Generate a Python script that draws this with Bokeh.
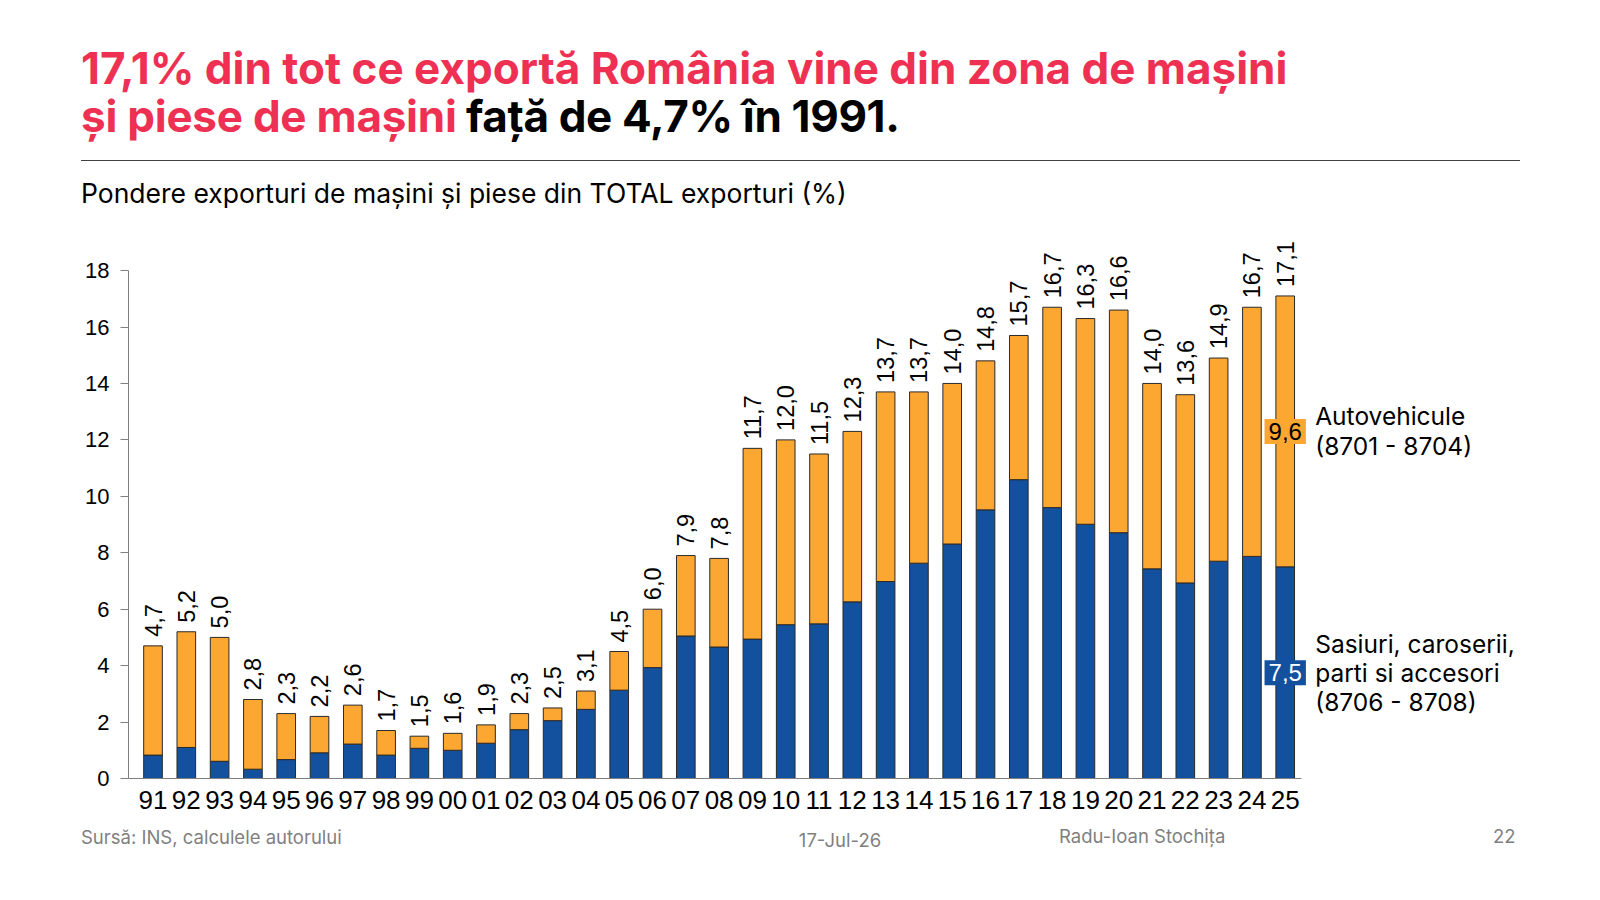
import math
from bokeh.plotting import figure
from bokeh.layouts import column
from bokeh.models import Range1d, FixedTicker, ColumnDataSource, Div
from bokeh.core.properties import value
from bokeh.embed import file_html
from bokeh.resources import INLINE

# ---------------- data ----------------
years = ["91", "92", "93", "94", "95", "96", "97", "98", "99", "00",
         "01", "02", "03", "04", "05", "06", "07", "08", "09", "10",
         "11", "12", "13", "14", "15", "16", "17", "18", "19", "20",
         "21", "22", "23", "24", "25"]
totals = [4.7, 5.2, 5.0, 2.8, 2.3, 2.2, 2.6, 1.7, 1.5, 1.6,
          1.9, 2.3, 2.5, 3.1, 4.5, 6.0, 7.9, 7.8, 11.7, 12.0,
          11.5, 12.3, 13.7, 13.7, 14.0, 14.8, 15.7, 16.7, 16.3, 16.6,
          14.0, 13.6, 14.9, 16.7, 17.1]
# Sasiuri, caroserii, parti si accesori (8706 - 8708)
parts = [0.83, 1.10, 0.61, 0.33, 0.67, 0.91, 1.22, 0.83, 1.07, 1.00,
         1.25, 1.73, 2.05, 2.45, 3.13, 3.93, 5.05, 4.66, 4.94, 5.45,
         5.48, 6.26, 6.98, 7.63, 8.31, 9.52, 10.59, 9.60, 9.01, 8.71,
         7.43, 6.93, 7.70, 7.87, 7.50]
# Autovehicule (8701 - 8704)
vehicles = [3.87, 4.10, 4.39, 2.47, 1.63, 1.29, 1.38, 0.87, 0.43, 0.60,
            0.65, 0.57, 0.45, 0.65, 1.37, 2.07, 2.85, 3.14, 6.76, 6.55,
            6.02, 6.04, 6.72, 6.07, 5.69, 5.28, 5.11, 7.10, 7.29, 7.89,
            6.57, 6.67, 7.20, 8.83, 9.60]
y_ticks = [0, 2, 4, 6, 8, 10, 12, 14, 16, 18]
vehicles_name = ["Autovehicule", "(8701 - 8704)"]
parts_name = ["Sasiuri, caroserii,", "parti si accesori", "(8706 - 8708)"]

title_red_1 = "17,1% din tot ce exportă România vine din zona de mașini"
title_red_2 = "și piese de mașini"
title_black_2 = "față de 4,7% în 1991."
subtitle = "Pondere exporturi de mașini și piese din TOTAL exporturi (%)"
source_txt = "Sursă: INS, calculele autorului"
date_txt = "17-Jul-26"
author_txt = "Radu-Ioan Stochița"
page_txt = "22"

BLUE = "#13519F"
ORANGE = "#FCA732"
RED = "#EE3152"
GREY = "#7F7F7F"


def fmt(v):
    return f"{v:.1f}".replace(".", ",")


idx = list(range(len(years)))
src = ColumnDataSource(dict(x=idx, parts=parts, vehicles=vehicles,
                            total=totals, lbl=[fmt(t) for t in totals]))

TOP_H = 215
FIG_H = 605
BOT_H = 900 - TOP_H - FIG_H

p = figure(width=1600, height=FIG_H, output_backend="svg", toolbar_location=None,
           x_range=Range1d(-0.736, 43.468), y_range=Range1d(0, 19.42),
           min_border_left=128, min_border_right=0,
           min_border_top=15, min_border_bottom=42)
p.outline_line_color = None
p.xgrid.visible = False
p.ygrid.visible = False
p.background_fill_color = "white"
p.border_fill_color = "white"

p.vbar_stack(["parts", "vehicles"], x="x", width=0.56, source=src,
             fill_color=[BLUE, ORANGE], line_color="#2a2a2a", line_width=1)

p.text(x="x", y="total", text="lbl", source=src, angle=math.pi / 2,
       text_align="left", text_baseline="middle", y_offset=-9,
       text_font=value("Liberation Sans"), text_font_size="23.5px",
       text_color="black")

# value boxes for the last year
last = len(years) - 1
mid_v = parts[last] + vehicles[last] / 2
mid_p = parts[last] / 2
bsrc = ColumnDataSource(dict(
    x=[last, last], y=[mid_v, mid_p],
    t=[fmt(vehicles[last]), fmt(parts[last])],
    bg=[ORANGE, BLUE], tc=["black", "white"]))
p.text(x="x", y="y", text="t", source=bsrc, text_align="center",
       text_baseline="middle", text_font=value("Liberation Sans"),
       text_font_size="24px", text_color="tc", background_fill_color="bg",
       padding=4)

# series names next to the last bar
lsrc = ColumnDataSource(dict(
    x=[last] * 5,
    y=[mid_v, mid_v, mid_p, mid_p, mid_p],
    t=vehicles_name + parts_name,
    yo=[-15, 14.5, -29, 0, 29]))
p.text(x="x", y="y", text="t", source=lsrc, x_offset=30, y_offset="yo",
       text_align="left", text_baseline="alphabetic",
       text_font=value("Inter"), text_font_size="24.5px", text_color="black")

# axes
p.yaxis.ticker = FixedTicker(ticks=y_ticks)
p.yaxis.bounds = (0, 18)
p.yaxis.major_tick_out = 8
p.yaxis.major_tick_in = 0
p.yaxis.minor_tick_line_color = None
p.yaxis.axis_line_color = GREY
p.yaxis.major_tick_line_color = GREY
p.yaxis.major_label_text_font = "Liberation Sans"
p.yaxis.major_label_text_font_size = "22px"
p.yaxis.major_label_text_color = "black"
p.yaxis.major_label_standoff = 11

p.xaxis.ticker = FixedTicker(ticks=idx)
p.xaxis.bounds = (-0.736, 34.49)
p.xaxis.major_label_overrides = {i: y for i, y in zip(idx, years)}
p.xaxis.major_tick_out = 0
p.xaxis.major_tick_in = 0
p.xaxis.minor_tick_line_color = None
p.xaxis.axis_line_color = GREY
p.xaxis.major_label_text_font = "Liberation Sans"
p.xaxis.major_label_text_font_size = "26px"
p.xaxis.major_label_text_color = "black"
p.xaxis.major_label_standoff = 12


# ---------------- header / footer (HTML) ----------------
def span(txt, left, base_y, size, color, weight=400, center=False, ls=0):
    top = base_y - 0.864 * size
    tr = "transform:translateX(-50%);" if center else ""
    return (f'<div style="position:absolute;left:{left}px;top:{top:.1f}px;'
            f'font-size:{size}px;line-height:1;font-weight:{weight};color:{color};'
            f'letter-spacing:{ls}px;white-space:nowrap;{tr}">{txt}</div>')


head_html = (
    f'<div style="position:relative;width:1600px;height:{TOP_H}px;'
    f'font-family:Inter,sans-serif;">'
    + span(title_red_1, 81, 83.5, 44, RED, 700)
    + span(title_red_2, 81, 132, 44, RED, 700, ls=-0.25)
    + span(title_black_2, 466, 132, 44, "black", 700, ls=-0.35)
    + '<div style="position:absolute;left:81px;top:159.5px;width:1439px;'
      'height:0;border-top:1.3px solid #404040;"></div>'
    + span(subtitle, 81, 203, 26.5, "black")
    + '</div>')

Y0 = TOP_H + FIG_H
foot_html = (
    f'<div style="position:relative;width:1600px;height:{BOT_H}px;'
    f'font-family:Inter,sans-serif;">'
    + span(source_txt, 81, 844 - Y0, 18.5, GREY)
    + span(date_txt, 840, 847 - Y0, 18.5, GREY, center=True)
    + span(author_txt, 1059, 843 - Y0, 18.5, GREY)
    + span(page_txt, 1493, 843 - Y0, 18.5, GREY)
    + '</div>')

head = Div(text=head_html, width=1600, height=TOP_H, margin=0)
foot = Div(text=foot_html, width=1600, height=BOT_H, margin=0)

layout = column(head, p, foot, spacing=0)
open("out.html", "w").write(file_html(layout, INLINE))
